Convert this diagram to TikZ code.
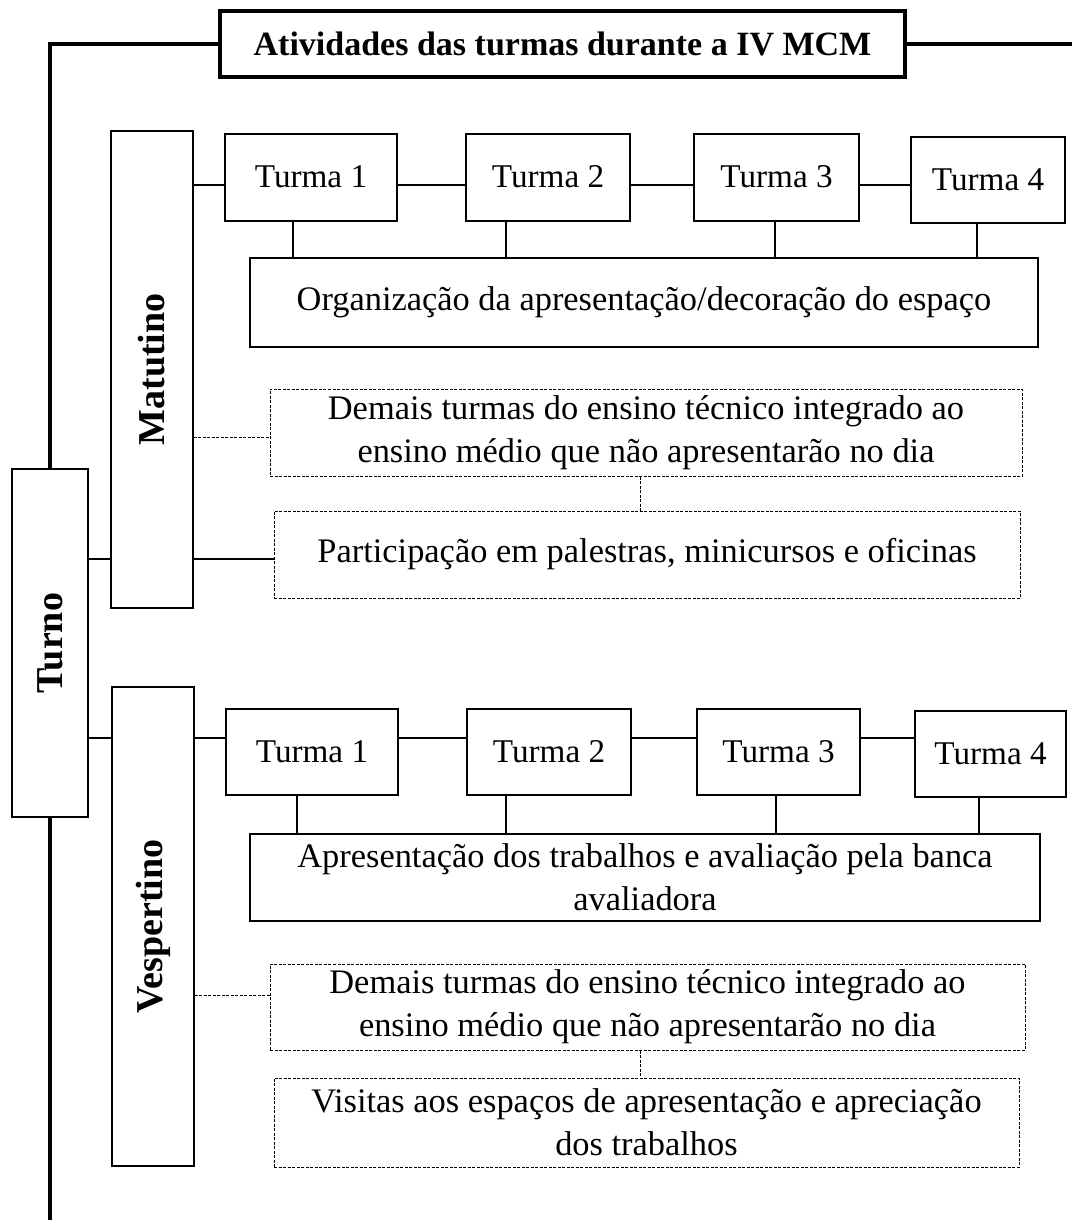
\documentclass[tikz,border=0pt]{standalone}
\usepackage{fontspec}
\setmainfont{Liberation Serif}
\begin{document}
\begin{tikzpicture}[x=0.5pt,y=-0.5pt,
  box/.style={draw, line width=0.65pt, inner sep=0pt, align=center, font=\fontsize{17.2}{21.5}\selectfont},
  tbox/.style={box, font=\fontsize{16.6}{20}\selectfont, text depth=0.5pt},
  dbox/.style={box, line width=0.5pt, dash pattern=on 1.5pt off 0.75pt},
  side/.style={draw, line width=0.65pt, inner sep=0pt},
  sidelabel/.style={rotate=90, inner sep=0pt, font=\bfseries\fontsize{19}{22}\selectfont},
  thinline/.style={line width=0.6pt},
  dline/.style={line width=0.5pt, dash pattern=on 1.5pt off 0.75pt},
  heavy/.style={line width=2pt},
  midline/.style={line width=1.3pt},
  sz/.style 2 args={minimum width=#1, minimum height=#2}
]
\useasboundingbox (0,0) rectangle (1072,1220);
\fill[white] (0,0) rectangle (1072,1220);

% title and side boxes
\node[draw, line width=2pt, inner sep=0pt, sz={342.5pt}{33pt},
      font=\bfseries\fontsize{17}{20}\selectfont] (title) at (562.5,44) {Atividades das turmas durante a IV MCM};
\node[side, sz={38pt}{174pt}, label={[sidelabel]center:Turno}] (turno) at (50,643) {};
\node[side, sz={41pt}{238.5pt}, label={[sidelabel]center:Matutino}] (mat) at (152,369.5) {};
\node[side, sz={41pt}{239.5pt}, label={[sidelabel]center:Vespertino}] (vesp) at (153,926.5) {};

% matutino
\node[tbox, sz={86pt}{43.5pt}] (m1) at (311,177.5) {Turma 1};
\node[tbox, sz={82pt}{43.5pt}] (m2) at (548,177.5) {Turma 2};
\node[tbox, sz={82.5pt}{43.5pt}] (m3) at (776.5,177.5) {Turma 3};
\node[tbox, sz={77pt}{43pt}] (m4) at (988,180) {Turma 4};
\node[box, sz={394pt}{44.5pt}] (morg) at (644,302.5) {Organização da apresentação/decoração do espaço};
\node[dbox, sz={376pt}{43.5pt}] (mdem) at (646,432.5) {Demais turmas do ensino técnico integrado ao\\ensino médio que não apresentarão no dia};
\node[dbox, sz={373pt}{43.5pt}] (mpar) at (647,554.5) {Participação em palestras, minicursos e oficinas};

% vespertino
\node[tbox, sz={86pt}{43pt}] (v1) at (312,752) {Turma 1};
\node[tbox, sz={82pt}{43pt}] (v2) at (549,752) {Turma 2};
\node[tbox, sz={81.5pt}{43pt}] (v3) at (778.5,752) {Turma 3};
\node[tbox, sz={75.5pt}{43pt}] (v4) at (990.5,754) {Turma 4};
\node[box, sz={395pt}{43.5pt}] (vapr) at (645,877.5) {Apresentação dos trabalhos e avaliação pela banca\\avaliadora};
\node[dbox, sz={377.5pt}{43pt}] (vdem) at (647.5,1007) {Demais turmas do ensino técnico integrado ao\\ensino médio que não apresentarão no dia};
\node[dbox, sz={372.5pt}{44.5pt}] (vvis) at (646.5,1122.5) {Visitas aos espaços de apresentação e apreciação\\dos trabalhos};

% helper coordinates
\coordinate (c0) at (50,44);
\coordinate (ce) at (1072,44);
\coordinate (cb) at (50,1220);
\coordinate (ym) at (0,559);
\coordinate (yr) at (0,185);
\coordinate (yd) at (0,437);
\coordinate (yv) at (0,738);
\coordinate (yvd) at (0,995);
\coordinate (xd) at (640,0);
\coordinate (xa) at (293,0);
\coordinate (xb) at (506,0);
\coordinate (xc) at (775,0);
\coordinate (xe) at (977,0);
\coordinate (xva) at (297,0);
\coordinate (xvb) at (506,0);
\coordinate (xvc) at (776,0);
\coordinate (xve) at (979,0);

% heavy frame
\draw[heavy] (title.west) -- (c0) -- (turno.north);
\draw[heavy] (title.east) -- (ce);
\draw[heavy] (turno.south) -- (cb);

% matutino connectors
\draw[midline] (turno.east |- ym) -- (mat.west |- ym);
\draw[midline] (mat.east |- ym) -- (mpar.west |- ym);
\draw[thinline] (mat.east |- yr) -- (m1.west |- yr);
\draw[thinline] (m1.east |- yr) -- (m2.west |- yr);
\draw[thinline] (m2.east |- yr) -- (m3.west |- yr);
\draw[thinline] (m3.east |- yr) -- (m4.west |- yr);
\draw[thinline] (m1.south -| xa) -- (morg.north -| xa);
\draw[thinline] (m2.south -| xb) -- (morg.north -| xb);
\draw[thinline] (m3.south -| xc) -- (morg.north -| xc);
\draw[thinline] (m4.south -| xe) -- (morg.north -| xe);
\draw[dline] (mat.east |- yd) -- (mdem.west |- yd);
\draw[dline] (mdem.south -| xd) -- (mpar.north -| xd);

% vespertino connectors
\draw[thinline] (turno.east |- yv) -- (vesp.west |- yv);
\draw[thinline] (vesp.east |- yv) -- (v1.west |- yv);
\draw[thinline] (v1.east |- yv) -- (v2.west |- yv);
\draw[thinline] (v2.east |- yv) -- (v3.west |- yv);
\draw[thinline] (v3.east |- yv) -- (v4.west |- yv);
\draw[thinline] (v1.south -| xva) -- (vapr.north -| xva);
\draw[thinline] (v2.south -| xvb) -- (vapr.north -| xvb);
\draw[thinline] (v3.south -| xvc) -- (vapr.north -| xvc);
\draw[thinline] (v4.south -| xve) -- (vapr.north -| xve);
\draw[dline] (vesp.east |- yvd) -- (vdem.west |- yvd);
\draw[dline] (vdem.south -| xd) -- (vvis.north -| xd);
\end{tikzpicture}
\end{document}
